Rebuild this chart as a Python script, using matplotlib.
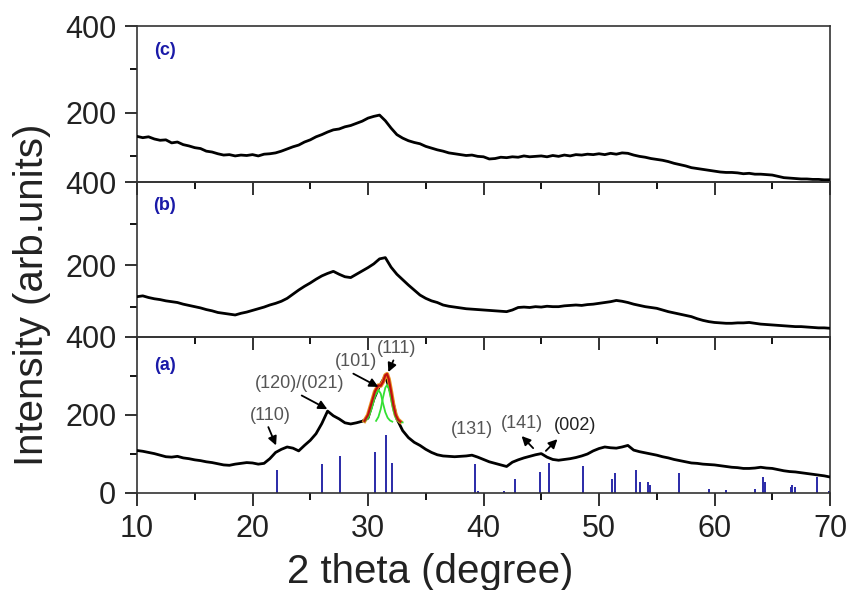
import numpy as np
import matplotlib
matplotlib.use("Agg")
import matplotlib.pyplot as plt
from matplotlib.ticker import MultipleLocator

plt.rcParams['font.family'] = ['Liberation Sans', 'DejaVu Sans']

# ---------------- data ----------------
two_theta = np.linspace(10, 70, 121)

intensity_c = [146, 143, 145, 140, 137, 138, 131, 133, 127, 124,
               120, 118, 112, 110, 106, 103, 104, 101, 103, 102,
               104, 101, 105, 106, 108, 112, 117, 122, 126, 133,
               138, 145, 150, 156, 161, 163, 168, 171, 176, 181,
               188, 192, 195, 182, 165, 150, 142, 136, 132, 129,
               123, 119, 115, 112, 108, 106, 104, 102, 103, 100,
               99, 94, 95, 98, 97, 99, 98, 101, 99, 100,
               101, 99, 102, 100, 103, 101, 104, 103, 105, 104,
               106, 104, 107, 105, 108, 107, 103, 100, 98, 95,
               93, 91, 88, 84, 81, 78, 74, 72, 70, 68,
               66, 64, 63, 63, 62, 60, 61, 59, 59, 58,
               57, 54, 51, 50, 49, 48, 48, 47, 47, 46, 46]

intensity_b = [124, 126, 122, 119, 117, 114, 112, 110, 106, 103,
               100, 97, 93, 90, 86, 84, 82, 80, 84, 87,
               91, 95, 99, 104, 108, 113, 120, 130, 140, 149,
               157, 166, 174, 180, 185, 178, 172, 170, 178, 186,
               194, 203, 215, 218, 195, 178, 165, 152, 140, 128,
               120, 114, 110, 104, 101, 99, 97, 95, 94, 93,
               92, 91, 90, 89, 88, 92, 98, 99, 98, 100,
               99, 101, 100, 100, 102, 103, 104, 103, 105, 106,
               108, 110, 112, 115, 113, 110, 106, 103, 100, 98,
               96, 92, 88, 85, 82, 79, 76, 71, 67, 64,
               62, 61, 60, 60, 61, 61, 62, 60, 58, 57,
               56, 55, 54, 53, 52, 52, 51, 50, 49, 49, 48]

intensity_a = [109, 107, 104, 101, 97, 93, 92, 94, 90, 88,
               85, 83, 80, 78, 75, 72, 71, 74, 76, 78,
               77, 74, 76, 88, 104, 112, 118, 115, 108, 122,
               135, 152, 178, 210, 198, 190, 180, 177, 180, 184,
               192, 240, 275, 300, 255, 190, 160, 142, 130, 122,
               112, 104, 98, 95, 94, 93, 94, 95, 97, 92,
               86, 80, 76, 72, 68, 79, 85, 90, 94, 98,
               101, 92, 86, 84, 86, 88, 91, 95, 100, 108,
               114, 118, 116, 115, 118, 122, 110, 106, 103, 100,
               97, 93, 90, 86, 83, 80, 77, 76, 74, 73,
               72, 70, 68, 66, 65, 63, 63, 64, 66, 64,
               63, 60, 57, 55, 54, 52, 50, 48, 46, 44, 41]

# reference (JCPDS) stick pattern
ref_pos = [22.15, 26.04, 27.58, 30.58, 31.56, 32.05, 39.24, 39.5, 41.8, 42.7,
           44.9, 45.7, 48.6, 51.15, 51.4, 53.2, 53.55, 54.2, 54.4, 56.9,
           59.5, 61.0, 63.5, 64.2, 64.4, 66.6, 66.75, 66.95, 68.9, 69.9]
ref_int = [60, 75, 95, 105, 148, 77, 75, 5, 4, 36,
           54, 77, 68, 37, 52, 60, 28, 28, 21, 52,
           11, 7, 9, 41, 28, 15, 20, 15, 41, 5]

# peak-fit curves in panel (a)
fit_x_red = [29.7, 30.0, 30.3, 30.6, 30.9, 31.1, 31.3, 31.5, 31.65, 31.8, 32.0, 32.2, 32.4, 32.6, 32.8]
fit_y_red = [185, 200, 230, 260, 276, 275, 285, 302, 305, 292, 260, 225, 200, 188, 183]
fit_x_g1 = [29.7, 30.0, 30.3, 30.6, 30.9, 31.1, 31.3, 31.5, 31.7, 31.9, 32.1]
fit_y_g1 = [184, 192, 215, 248, 264, 255, 230, 207, 193, 186, 183]
fit_x_g2 = [30.7, 30.9, 31.1, 31.3, 31.5, 31.65, 31.8, 32.0, 32.2, 32.4, 32.6, 32.8, 33.0]
fit_y_g2 = [185, 195, 215, 245, 270, 277, 268, 240, 212, 193, 185, 182, 181]

panel_labels = ["(c)", "(b)", "(a)"]
x_ticks = [10, 20, 30, 40, 50, 60, 70]

# ---------------- figure ----------------
fig = plt.figure(figsize=(8.51, 5.90), dpi=100)
L, R = 137 / 851, 830 / 851
def fy(p):
    return 1 - p / 590

rects = [(26, 182), (182, 337), (337, 493)]
ylims = [(41, 400), (27, 400), (0, 400)]
data = [intensity_c, intensity_b, intensity_a]
axes = []
for i, ((t, b), yl, y) in enumerate(zip(rects, ylims, data)):
    ax = fig.add_axes([L, fy(b), R - L, fy(t) - fy(b)])
    ax.patch.set_alpha(0)
    ax.plot(two_theta, y, color='black', lw=2.0, zorder=3)
    ax.set_xlim(10, 70)
    ax.set_ylim(*yl)
    ax.xaxis.set_major_locator(MultipleLocator(10))
    ax.xaxis.set_minor_locator(MultipleLocator(5))
    ax.yaxis.set_major_locator(MultipleLocator(200))
    ax.yaxis.set_minor_locator(MultipleLocator(100))
    ax.tick_params(axis='both', which='major', direction='out', length=9, width=1.3,
                   labelsize=22, pad=6, colors='#222222')
    ax.tick_params(axis='both', which='minor', direction='out', length=5, width=1.3)
    ax.tick_params(axis='x', labelbottom=(i == 2))
    for s in ax.spines.values():
        s.set_linewidth(1.2)
        s.set_color('#333333')
    ax.text(0.04, [0.846, 0.85, 0.82][i], panel_labels[i], transform=ax.transAxes,
            color='#1a1aa8', fontsize=13, fontweight='bold', ha='center', va='center')
    axes.append(ax)

ax = axes[2]
ax.vlines(ref_pos, 0, ref_int, color='#2a2aa8', lw=1.4, zorder=2)
ax.plot(fit_x_red, fit_y_red, color='#e89020', lw=3.0, zorder=4)
ax.plot(fit_x_g1, fit_y_g1, color='#33e033', lw=1.3, zorder=5)
ax.plot(fit_x_g2, fit_y_g2, color='#33e033', lw=1.3, zorder=5)
ax.plot(fit_x_red, fit_y_red, color='#c01010', lw=1.6, zorder=6)
ax.set_xticks(x_ticks)

gray = '#555555'
ap = dict(arrowstyle='-|>', color='black', lw=1.3, mutation_scale=13, shrinkA=0, shrinkB=0)
fs = 13
ax.text(21.5, 200, "(110)", color=gray, fontsize=fs, ha='center', va='center')
ax.annotate("", xy=(22.04, 122), xytext=(21.37, 169), arrowprops=ap, zorder=7)
ax.text(24.1, 281, "(120)/(021)", color=gray, fontsize=fs, ha='center', va='center')
ax.annotate("", xy=(26.48, 215), xytext=(24.26, 250), arrowprops=ap, zorder=7)
ax.text(29.0, 336, "(101)", color=gray, fontsize=fs, ha='center', va='center')
ax.annotate("", xy=(30.9, 272), xytext=(28.73, 306), arrowprops=ap, zorder=7)
ax.text(32.5, 370, "(111)", color=gray, fontsize=fs, ha='center', va='center')
ax.annotate("", xy=(31.76, 310), xytext=(32.2, 340), arrowprops=ap, zorder=7)
ax.text(39.0, 164, "(131)", color=gray, fontsize=fs, ha='center', va='center')
ax.text(43.3, 179, "(141)", color=gray, fontsize=fs, ha='center', va='center')
ax.annotate("", xy=(43.3, 146), xytext=(44.3, 115), arrowprops=ap, zorder=7)
ax.text(47.9, 174, "(002)", color='#222222', fontsize=fs, ha='center', va='center')
ax.annotate("", xy=(46.4, 138), xytext=(45.4, 108), arrowprops=ap, zorder=7)

fig.text(0.505, fy(572), "2 theta (degree)", fontsize=29, ha='center', va='center', color='#222222')
fig.text(32 / 851, 0.5, "Intensity (arb.units)", fontsize=29,
         rotation=90, ha='center', va='center', color='#222222')

fig.savefig("out.png", dpi=100)
